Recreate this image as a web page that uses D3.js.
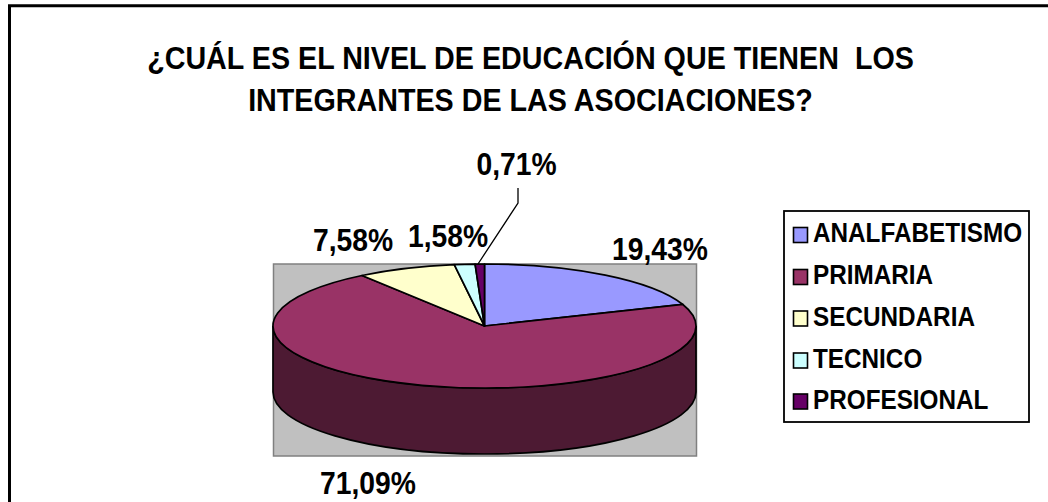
<!DOCTYPE html>
<html><head><meta charset="utf-8">
<script src="https://cdn.jsdelivr.net/npm/d3@7/dist/d3.min.js"></script>
<style>html,body{margin:0;padding:0;background:#fff}svg{display:block}text{font-family:"Liberation Sans",Arial,sans-serif;font-weight:bold;fill:#000}</style>
</head><body><svg id="c" width="1048" height="502"></svg>
<script>
const categories=["ANALFABETISMO","PRIMARIA","SECUNDARIA","TECNICO","PROFESIONAL"];
const values=[19.43,71.09,7.58,1.58,0.71];
const valueLabels=["19,43%","71,09%","7,58%","1,58%","0,71%"];
const colors=["#9999ff","#993366","#ffffcc","#ccffff","#660066"];
const sideColor="#4d1a33";
const titleLines=["¿CUÁL ES EL NIVEL DE EDUCACIÓN QUE TIENEN  LOS","INTEGRANTES DE LAS ASOCIACIONES?"];

const svg=d3.select("#c");
const W=1048,H=502,stretch=1.1;
svg.append("path").attr("d",`M9.5,${H+5}V5.8H${W+5}`).attr("fill","none").attr("stroke","#000").attr("stroke-width",3);

svg.selectAll(".t").data(titleLines).join("text")
  .attr("transform",(d,i)=>`translate(530.5,${[68.5,111][i]}) scale(1,${stretch})`)
  .attr("text-anchor","middle").attr("font-size",28.7).style("white-space","pre").text(d=>d);

const cx=484.5,cy=326,rx=211.5,ry=62,depth=66;
svg.append("rect").attr("x",273.5).attr("y",264).attr("width",423).attr("height",192).attr("fill","#c0c0c0").attr("stroke","#808080").attr("stroke-width",1.5);

const n=[`M${cx-rx},${cy}`,`L${cx-rx},${cy+depth}`,`A${rx},${ry} 0 0 0 ${cx+rx},${cy+depth}`,`L${cx+rx},${cy}`,`A${rx},${ry} 0 0 1 ${cx-rx},${cy}`,"Z"].join("");
svg.append("path").attr("d",n).attr("fill",sideColor).attr("stroke","#000").attr("stroke-width",1.7);

const pie=d3.pie().sort(null).value(d=>d)(values);
const arc=d3.arc().innerRadius(0).outerRadius(rx);
svg.append("g").attr("transform",`translate(${cx},${cy}) scale(1,${ry/rx})`)
  .selectAll("path").data(pie).join("path").attr("d",arc).attr("fill",(d,i)=>colors[i])
  .attr("stroke","#000").attr("stroke-width",1.7).attr("vector-effect","non-scaling-stroke").attr("stroke-linejoin","round");

const labelPos=[[660,260],[368,494],[353,251],[448,247],[516.5,175]];
svg.selectAll(".v").data(valueLabels).join("text")
  .attr("transform",(d,i)=>`translate(${labelPos[i][0]},${labelPos[i][1]}) scale(1,${stretch})`)
  .attr("text-anchor","middle").attr("font-size",28.3).text(d=>d);
svg.append("path").attr("d","M518,188V203L478,264").attr("fill","none").attr("stroke","#000").attr("stroke-width",1.3);

svg.append("rect").attr("x",784).attr("y",211).attr("width",245).attr("height",211).attr("fill","#fff").attr("stroke","#000").attr("stroke-width",1.8);
const g=svg.selectAll(".l").data(categories).join("g").attr("transform",(d,i)=>`translate(0,${[243,285,326.5,368.5,409.5][i]})`);
g.append("rect").attr("x",793.5).attr("y",-15.5).attr("width",14).attr("height",15).attr("fill",(d,i)=>colors[i]).attr("stroke","#000").attr("stroke-width",1.6);
g.append("text").attr("transform",`translate(813,-0.8) scale(1,${stretch})`).attr("font-size",24.3).text(d=>d);
</script></body></html>
